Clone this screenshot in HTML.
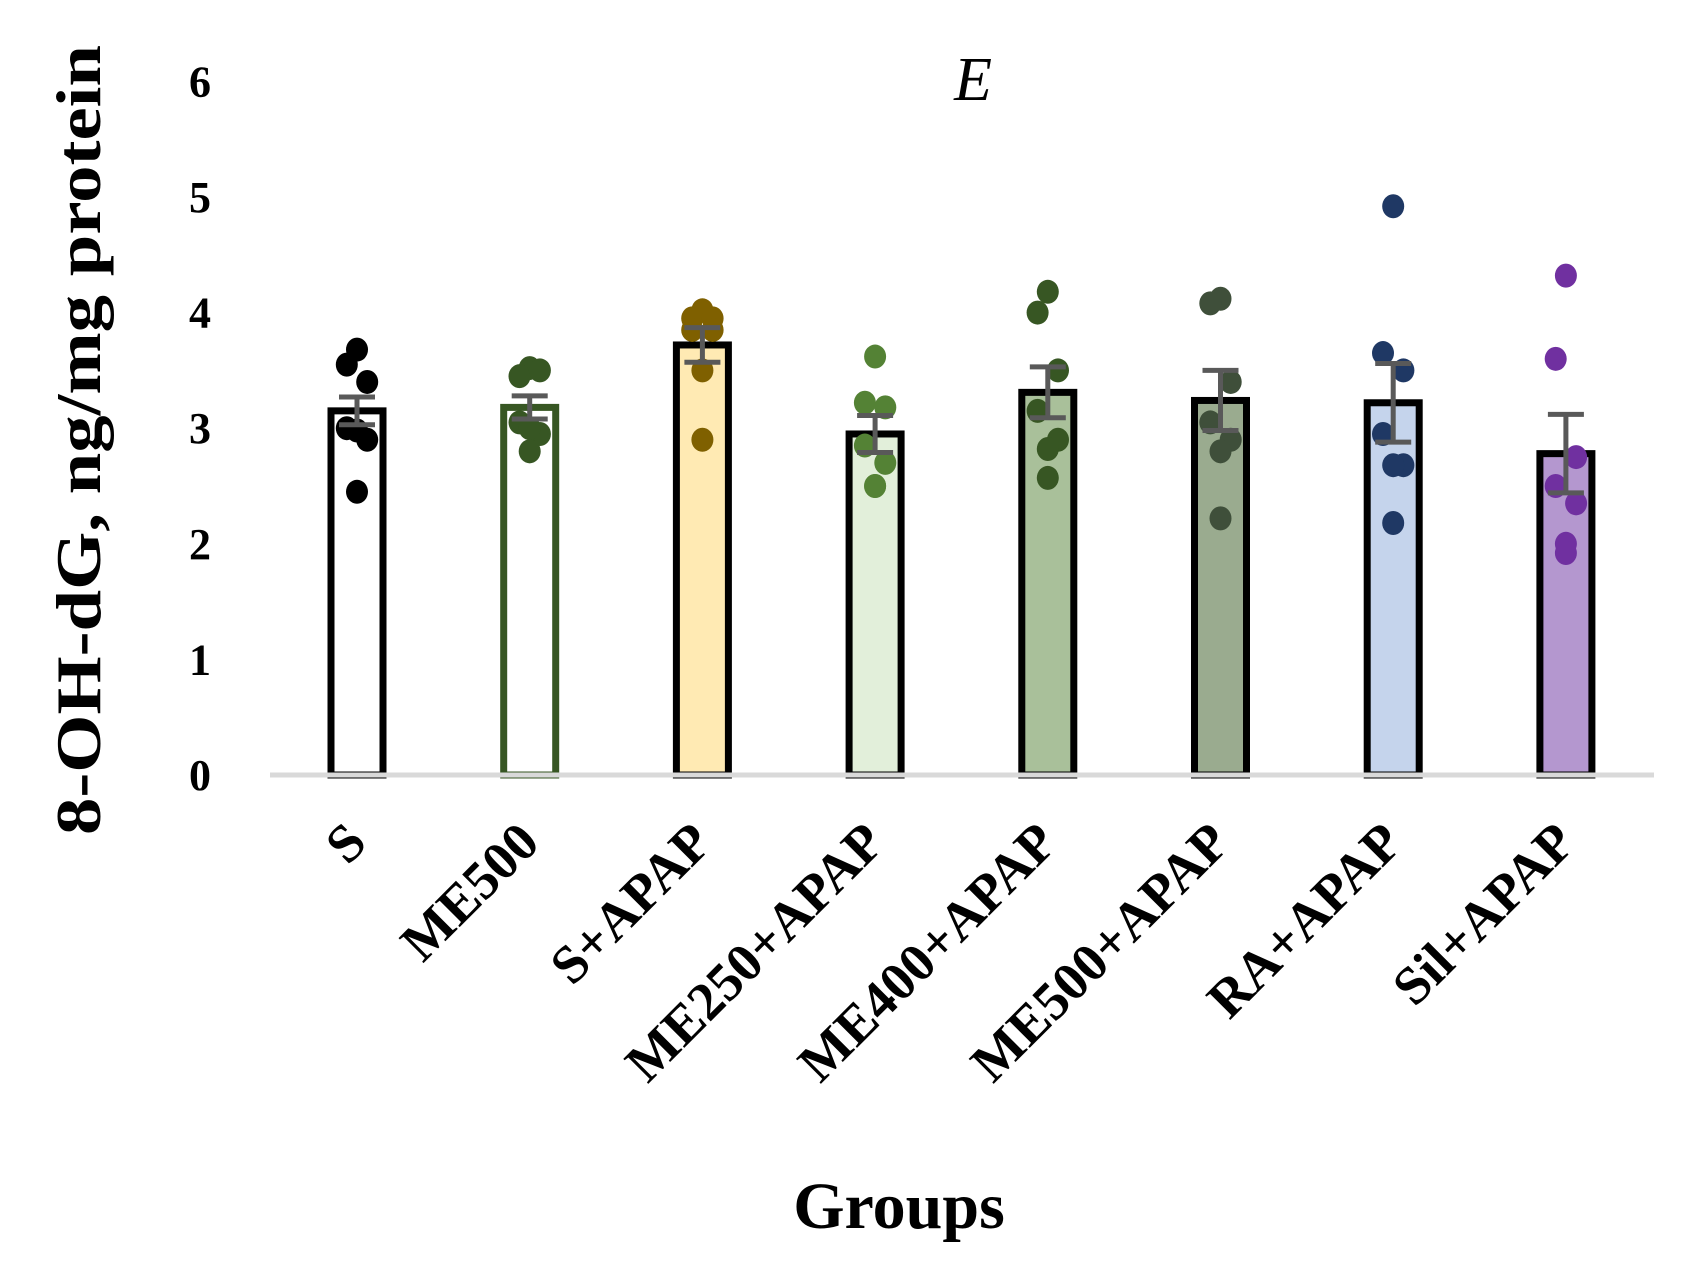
<!DOCTYPE html>
<html><head><meta charset="utf-8"><style>
html,body{margin:0;padding:0;background:#fff;}
svg{display:block;font-family:"Liberation Serif",serif;}
</style></head><body>
<svg id="chart" width="1686" height="1266" viewBox="0 0 1686 1266">
<text x="973" y="100" font-size="62" font-style="italic" text-anchor="middle">E</text>
<text transform="translate(100,440) rotate(-90)" font-size="64" font-weight="bold" text-anchor="middle" textLength="790" lengthAdjust="spacingAndGlyphs">8-OH-dG, ng/mg protein</text>
<text x="899" y="1228" font-size="66" font-weight="bold" text-anchor="middle">Groups</text>
<g id="yticks"></g>
<g id="bars"></g>
<line x1="270" y1="775" x2="1654" y2="775" stroke="#d9d9d9" stroke-width="5"/>
<g id="xlabels"></g>
</svg>
<script>
const categories = ["S","ME500","S+APAP","ME250+APAP","ME400+APAP","ME500+APAP","RA+APAP","Sil+APAP"];
const means = [3.15,3.18,3.72,2.95,3.31,3.24,3.22,2.78];
const sems = [0.12,0.10,0.15,0.16,0.22,0.26,0.34,0.34];
const points = [
 [3.68,3.55,3.40,3.00,2.90,2.98,2.45],
 [3.52,3.45,3.50,3.05,2.95,3.00,2.80],
 [4.02,3.95,3.95,3.85,3.85,3.50,2.90],
 [3.62,3.22,3.18,2.85,2.70,2.50,2.50],
 [4.18,4.00,3.50,3.15,2.90,2.82,2.57],
 [4.12,4.08,3.40,3.05,2.90,2.80,2.22],
 [4.92,3.65,3.50,2.95,2.68,2.68,2.18],
 [4.32,3.60,2.75,2.50,2.35,2.00,1.92]
];
const yTicks = [0,1,2,3,4,5,6];
const fills = ["#ffffff","#ffffff","#ffeab3","#e2efda","#a9c09a","#9aab8f","#c5d4ec","#b497cf"];
const strokes = ["#000","#375623","#000","#000","#000","#000","#000","#000"];
const dotColors = ["#000000","#375623","#7f6000","#548235","#375623","#3f4f3a","#1f3864","#7030a0"];
const jitter = [0,-0.6,0.6,-0.6,0.6,0,0];
const NS="http://www.w3.org/2000/svg";
const y = v => 775 - v*115.6;
const x = i => 357 + i*172.7;
function mk(t,a,p){const e=document.createElementNS(NS,t);for(const k in a)e.setAttribute(k,a[k]);p.appendChild(e);return e;}
const yt=document.getElementById('yticks');
yTicks.forEach(t=>{const e=mk('text',{x:200,y:y(t)+15,'font-size':44,'font-weight':'bold','text-anchor':'middle'},yt);e.textContent=t;

});
const bg=document.getElementById('bars');
const xl=document.getElementById('xlabels');
categories.forEach((c,i)=>{
 const g=mk('g',{},bg);
 
 
 const r=mk('rect',{x:x(i)-26,y:y(means[i]),width:52,height:775-y(means[i]),fill:fills[i],stroke:strokes[i],'stroke-width':7},g);
 
 
 points[i].forEach((v,j)=>{
  const d=mk('ellipse',{cx:x(i)+jitter[j]*17,cy:y(v),rx:11,ry:12,fill:dotColors[i]},g);
  
  
 });
 const hi=y(means[i]+sems[i]),lo=y(means[i]-sems[i]);
 const eb=mk('path',{d:`M${x(i)} ${lo}V${hi}M${x(i)-18} ${hi}H${x(i)+18}M${x(i)-18} ${lo}H${x(i)+18}`,stroke:'#595959','stroke-width':5,fill:'none'},g);
 
 
 const t=mk('text',{transform:`translate(${x(i)+12},${845}) rotate(-45)`,'font-size':54,'font-weight':'bold','text-anchor':'end'},xl);
 t.textContent=c;
 
 
});
</script>
</body></html>
